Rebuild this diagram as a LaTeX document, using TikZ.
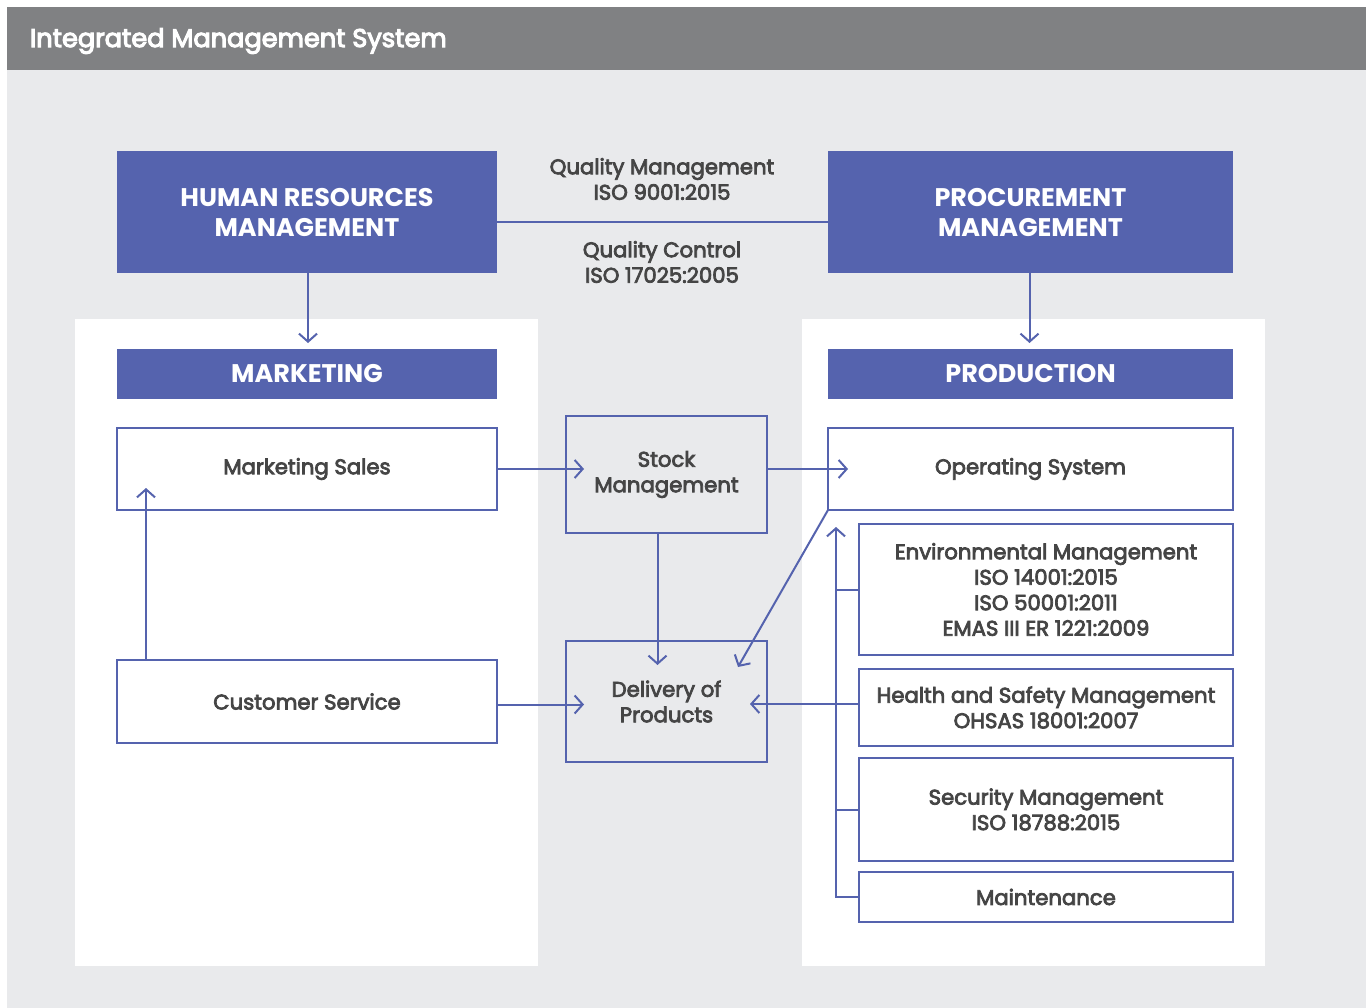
\documentclass[tikz,border=0pt]{standalone}
\usepackage{fontspec}
\usetikzlibrary{arrows.meta,calc}
\newfontfamily\pop[FakeBold=3.6]{Poppins}
\newfontfamily\poph[FakeBold=4.2]{Poppins}
\newfontfamily\popb{Poppins}
\definecolor{hdr}{HTML}{808183}
\definecolor{bg}{HTML}{E9EAEC}
\definecolor{imsblue}{HTML}{5563AE}
\definecolor{txt}{HTML}{454545}
\newcommand{\hdrf}{\poph\fontsize{25.6}{32}\selectfont}
\newcommand{\titlef}{\popb\bfseries\fontsize{25.5}{30}\selectfont}
\newcommand{\bodyf}{\pop\fontsize{21.2}{25.5}\selectfont}
\begin{document}
\begin{tikzpicture}[x=1pt,y=-1pt,
  every node/.style={inner sep=0pt, outer sep=0pt, align=center, text=txt},
  titlebox/.style={fill=imsblue, text=white, font=\titlef},
  wbox/.style={draw=imsblue, line width=2pt, fill=white, font=\bodyf},
  gbox/.style={draw=imsblue, line width=2pt, font=\bodyf},
  lbl/.style={font=\bodyf},
  conn/.style={draw=imsblue, line width=2pt},
  arr/.style={conn, -{Straight Barb[length=8pt,width=18pt]}}]
\useasboundingbox (0,0) rectangle (1370,1008);
\fill[white] (0,0) rectangle (1370,1008);
\fill[bg] (7,70) rectangle (1366,1008);
\fill[hdr] (7,7) rectangle (1366,70);
\node[anchor=west, text=white, font=\hdrf] (ttl) at (30,41) {Integrated Management System};
\fill[white] (75,319) rectangle (538,966);
\fill[white] (802,319) rectangle (1265,966);
% top boxes
\node[titlebox, minimum width=380pt, minimum height=122pt] (hr) at (307,212) {HUMAN RESOURCES\\MANAGEMENT};
\node[titlebox, minimum width=405pt, minimum height=122pt] (pm) at (1030.5,212) {PROCUREMENT\\MANAGEMENT};
\node[titlebox, minimum width=380pt, minimum height=50pt] (mk) at (307,374) {MARKETING};
\node[titlebox, minimum width=405pt, minimum height=50pt] (pr) at (1030.5,374) {PRODUCTION};
\node[lbl] (qm) at (662,179) {Quality Management\\ISO 9001:2015};
\node[lbl] (qc) at (662,262) {Quality Control\\ISO 17025:2005};
% boxes
\node[wbox, minimum width=380pt, minimum height=82pt] (ms) at (307,469) {Marketing Sales};
\node[gbox, minimum width=201pt, minimum height=117pt] (sm) at (666.5,474.5) {Stock\\Management};
\node[wbox, minimum width=405pt, minimum height=82pt] (os) at (1030.5,469) {Operating System};
\node[wbox, minimum width=380pt, minimum height=83pt] (cs) at (307,701.5) {Customer Service};
\node[gbox, minimum width=201pt, minimum height=121pt] (dp) at (666.5,701.5) {Delivery of\\Products};
\node[wbox, minimum width=374pt, minimum height=131pt] (env) at (1046,589.5) {Environmental Management\\ISO 14001:2015\\ISO 50001:2011\\EMAS III ER 1221:2009};
\node[wbox, minimum width=374pt, minimum height=77pt] (hs) at (1046,707.5) {Health and Safety Management\\OHSAS 18001:2007};
\node[wbox, minimum width=374pt, minimum height=103pt] (sec) at (1046,809.5) {Security Management\\ISO 18788:2015};
\node[wbox, minimum width=374pt, minimum height=50pt] (mt) at (1046,897) {Maintenance};
% connectors
\draw[conn] ([yshift=-10pt]hr.east) -- ([yshift=-10pt]pm.west);
\draw[arr] ([xshift=1pt]hr.south) -- ([xshift=1pt,yshift=6pt]mk.north);
\draw[arr] ([xshift=-1pt]pm.south) -- ([xshift=-1pt,yshift=6pt]pr.north);
\draw[arr] (ms.east) -- ($(ms.east -| sm.west)+(18,0)$);
\draw[arr] (os.west -| sm.east) -- ($(os.west)+(20,0)$);
\draw[arr] ([yshift=-3pt]cs.east) -- ($(cs.east -| dp.west)+(18,3)$);
\draw[arr] ($(sm.south)+(-9,0)$) -- ($(dp.north)+(-9,24)$);
\draw[arr] ($(cs.north west)+(29,0)$) -- ($(ms.south west)+(29,-22)$);
\draw[arr] (os.south west) -- ($(dp.north east)+(-29,26)$);
\draw[arr] (mt.west) -- ++(-23,0) -- ($(os.south west)+(8,17)$);
\draw[conn] (env.west) -- ++(-23,0);
\draw[conn] (sec.west) -- ++(-23,0);
\draw[arr] ([yshift=3.5pt]hs.west) -- ($(hs.west -| dp.east)+(-17,-3.5)$);
\end{tikzpicture}
\end{document}
